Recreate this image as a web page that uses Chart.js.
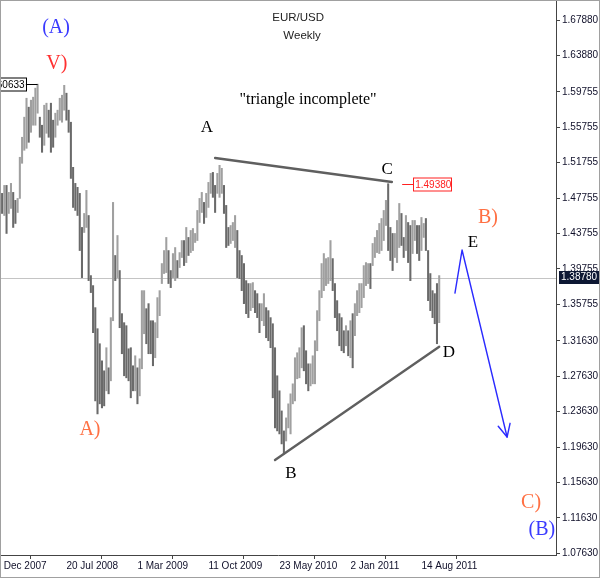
<!DOCTYPE html>
<html>
<head>
<meta charset="utf-8">
<script src="https://cdn.jsdelivr.net/npm/chart.js@4.4.1/dist/chart.umd.min.js"></script>
<style>
html,body{margin:0;padding:0;background:#fff;}
#wrap{width:600px;height:578px;position:relative;}
canvas{display:block;}
</style>
</head>
<body>
<div id="wrap"><canvas id="c" width="600" height="578"></canvas></div>
<script>
// Weekly EUR/USD bars (index 0 = first week shown)
const highs = [
1.4829,1.4919,1.4919,1.4840,1.4942,1.4840,1.4750,1.4772,1.5237,1.5463,
1.5690,1.5904,1.5803,1.5882,1.5916,1.6018,1.6063,1.5690,1.5599,1.5825,
1.5848,1.5769,1.5848,1.5656,1.5735,1.5769,1.5904,1.5938,1.6050,1.5961,
1.5769,1.5633,1.5123,1.4942,1.4897,1.4829,1.4444,1.4602,1.4863,1.4579,
1.3900,1.3787,1.3538,1.3300,1.3130,1.2937,1.2824,1.3085,1.2858,1.3425,
1.4727,1.4127,1.4353,1.3957,1.3470,1.3368,1.3334,1.3073,1.3085,1.2881,
1.2994,1.2858,1.2960,1.3730,1.3730,1.3526,1.3583,1.3390,1.3390,1.3368,
1.3651,1.3730,1.4036,1.4183,1.4331,1.4183,1.3957,1.4149,1.4217,1.4070,
1.4160,1.4296,1.4296,1.4444,1.4331,1.4410,1.4432,1.4376,1.4636,1.4772,
1.4840,1.4727,1.4829,1.4953,1.5055,1.5066,1.4919,1.5055,1.5146,1.5112,
1.4919,1.4693,1.4444,1.4466,1.4500,1.4579,1.4410,1.4183,1.4127,1.4036,
1.3843,1.3810,1.3810,1.3821,1.3730,1.3696,1.3583,1.3583,1.3696,1.3538,
1.3504,1.3425,1.3356,1.3085,1.2768,1.2598,1.2371,1.2145,1.2292,1.2451,
1.2564,1.2677,1.2972,1.3028,1.3085,1.3311,1.3334,1.3051,1.2903,1.2903,
1.2994,1.3164,1.3504,1.3730,1.4036,1.4149,1.4092,1.4104,1.4296,1.4092,
1.3810,1.3617,1.3470,1.3425,1.3277,1.3334,1.3277,1.3390,1.3470,1.3583,
1.3730,1.3810,1.3810,1.4013,1.4047,1.4036,1.4036,1.4263,1.4331,1.4410,
1.4489,1.4545,1.4636,1.4750,1.4938,1.4444,1.4376,1.4376,1.4523,1.4715,
1.4602,1.4331,1.4579,1.4500,1.4466,1.4523,1.4523,1.4466,1.4466,1.4557,
1.4489,1.4545,1.4183,1.3923,1.3730,1.3696,1.3810,1.3900];
const lows = [
1.4602,1.4579,1.4376,1.4602,1.4659,1.4444,1.4489,1.4613,1.4772,1.5169,
1.5316,1.5338,1.5406,1.5519,1.5599,1.5599,1.5735,1.5463,1.5293,1.5372,
1.5508,1.5463,1.5293,1.5350,1.5463,1.5599,1.5656,1.5633,1.5769,1.5656,
1.5519,1.4998,1.4670,1.4636,1.4579,1.4183,1.3877,1.4387,1.4444,1.3843,
1.3708,1.3255,1.2484,1.2337,1.2451,1.2405,1.2428,1.2598,1.2564,1.2711,
1.3390,1.3843,1.3877,1.3311,1.3017,1.2768,1.2745,1.2711,1.2519,1.2598,
1.2598,1.2451,1.2541,1.2847,1.3243,1.3130,1.3017,1.3017,1.2881,1.2972,
1.3198,1.3447,1.3810,1.3923,1.3934,1.3810,1.3764,1.3877,1.3843,1.3877,
1.3991,1.4104,1.4013,1.4047,1.4127,1.4160,1.4183,1.4274,1.4296,1.4500,
1.4613,1.4489,1.4557,1.4670,1.4829,1.4784,1.4613,1.4829,1.4784,1.4829,
1.4602,1.4217,1.4240,1.4263,1.4296,1.4217,1.3877,1.3866,1.3730,1.3583,
1.3470,1.3425,1.3504,1.3538,1.3481,1.3425,1.3255,1.3390,1.3334,1.3198,
1.3164,1.3085,1.2519,1.2179,1.2145,1.2111,1.1998,1.1884,1.2031,1.2179,
1.2111,1.2451,1.2484,1.2734,1.2745,1.2858,1.2824,1.2677,1.2598,1.2654,
1.2677,1.2677,1.3051,1.3390,1.3651,1.3730,1.3787,1.3810,1.3843,1.3730,
1.3425,1.3277,1.3107,1.3051,1.3028,1.3107,1.2994,1.2972,1.2858,1.3221,
1.3447,1.3481,1.3538,1.3651,1.3787,1.3810,1.3753,1.4013,1.4104,1.4160,
1.4149,1.4183,1.4296,1.4466,1.4183,1.4070,1.3957,1.4104,1.4047,1.4217,
1.4240,1.4104,1.4183,1.4047,1.3843,1.4149,1.4296,1.4149,1.4070,1.4183,
1.4331,1.4183,1.3617,1.3504,1.3425,1.3356,1.3130,1.3368];

// Axis ticks
const xTickIndex = [-3, 29, 61, 93, 125, 157, 189];
const xTickLabels = ["2 Dec 2007","20 Jul 2008","1 Mar 2009","11 Oct 2009","23 May 2010","2 Jan 2011","14 Aug 2011"];
const yTickValues = [1.07630,1.11630,1.15630,1.19630,1.23630,1.27630,1.31630,1.35755,1.39755,1.43755,1.47755,1.51755,1.55755,1.59755,1.63880,1.67880];

// Marked prices
const lastPrice = 1.38780;
const peakCIndex = 174, peakCPrice = 1.49380;
const peakEarlyIndex = 16, peakEarlyPrice = 1.60633;

// Trend lines / projected path in (week index, price)
const upperLineIdx = [96.0, 175.7],  upperLinePrice = [1.5229, 1.4958];
const lowerLineIdx = [123.0, 197.0], lowerLinePrice = [1.1816, 1.3096];
const pathIdx = [204.1, 207.3, 227.6], pathPrice = [1.3703, 1.4189, 1.2076];

// Text labels anchored at (week index, price)
const labelText  = ["(A)","V)","A)","A","B","C","D","E","B)","C)","(B)"];
const labelIdx   = [24.3, 24.7, 39.6, 92.3, 130.2, 173.5, 201.4, 212.2, 219.0, 238.4, 243.3];
const labelPrice = [1.6698,1.6290,1.2155,1.5568,1.1669,1.5104,1.3025,1.4268,1.4551,1.1330,1.1025];
const labelColor = ["#3a3aff","#ff3030","#ff7043","#000","#000","#000","#000","#000","#ff7043","#ff7043","#3a3aff"];
const labelSize  = [20,20,20,17,17,17,17,17,20,20,20];

const titleLines = ["EUR/USD","Weekly"];
const titleIdx = [133.4, 135.2], titlePrice = [1.6811, 1.6607];
const noteText = "\"triangle incomplete\"";
const noteIdx = 137.9, notePrice = 1.5884;

const barData = highs.map((h, k) => ({x: k, y: [lows[k], h]}));
const barColors = highs.map((h, k) => {
  if (k === 0) return '#6a6a6a';
  const m = (h + lows[k]) / 2, pm = (highs[k-1] + lows[k-1]) / 2;
  return m >= pm ? '#a0a0a0' : '#6a6a6a';
});

const noPad = s => { s.paddingLeft = 0; s.paddingRight = 0; s.paddingTop = 0; s.paddingBottom = 0; };

const overlay = {
  id: 'overlay',
  beforeDatasetsDraw(chart) {
    const {ctx, chartArea: a, scales: {y}} = chart;
    const py = Math.round(y.getPixelForValue(lastPrice)) + 0.5;
    ctx.save();
    ctx.strokeStyle = '#c4c4c4';
    ctx.lineWidth = 1;
    ctx.beginPath(); ctx.moveTo(a.left, py); ctx.lineTo(a.right, py); ctx.stroke();
    ctx.restore();
  },
  afterDatasetsDraw(chart) {
    const {ctx, scales: {x, y}} = chart;
    const X = v => x.getPixelForValue(v), Y = v => y.getPixelForValue(v);
    ctx.save();
    ctx.strokeStyle = '#5f5f5f';
    ctx.lineWidth = 2.4;
    ctx.lineCap = 'round';
    ctx.beginPath();
    ctx.moveTo(X(upperLineIdx[0]), Y(upperLinePrice[0]));
    ctx.lineTo(X(upperLineIdx[1]), Y(upperLinePrice[1]));
    ctx.stroke();
    ctx.beginPath();
    ctx.moveTo(X(lowerLineIdx[0]), Y(lowerLinePrice[0]));
    ctx.lineTo(X(lowerLineIdx[1]), Y(lowerLinePrice[1]));
    ctx.stroke();
    ctx.strokeStyle = '#2a2aff';
    ctx.lineWidth = 1.4;
    ctx.lineJoin = 'round';
    ctx.beginPath();
    pathIdx.forEach((v, k) => { const px = X(v), py = Y(pathPrice[k]); k ? ctx.lineTo(px, py) : ctx.moveTo(px, py); });
    ctx.stroke();
    const n = pathIdx.length;
    const ex = X(pathIdx[n-1]), ey = Y(pathPrice[n-1]);
    const sx = X(pathIdx[n-2]), sy = Y(pathPrice[n-2]);
    const ang = Math.atan2(ey - sy, ex - sx);
    ctx.beginPath();
    for (const d of [-0.45, 0.45]) {
      ctx.moveTo(ex, ey);
      ctx.lineTo(ex - 14 * Math.cos(ang + d), ey - 14 * Math.sin(ang + d));
    }
    ctx.stroke();
    ctx.restore();
  },
  afterDraw(chart) {
    const {ctx, chartArea: a, scales: {x, y}} = chart;
    const X = v => x.getPixelForValue(v), Y = v => y.getPixelForValue(v);
    ctx.save();
    ctx.textAlign = 'center';
    ctx.textBaseline = 'middle';
    labelText.forEach((t, k) => {
      ctx.font = labelSize[k] + 'px "Liberation Serif", "Times New Roman", serif';
      ctx.fillStyle = labelColor[k];
      ctx.fillText(t, X(labelIdx[k]), Y(labelPrice[k]));
    });
    ctx.font = '11.5px "Liberation Sans", Arial, sans-serif';
    ctx.fillStyle = '#222';
    titleLines.forEach((t, k) => ctx.fillText(t, X(titleIdx[k]), Y(titlePrice[k])));
    ctx.font = '16px "Liberation Serif", "Times New Roman", serif';
    ctx.fillStyle = '#000';
    ctx.fillText(noteText, X(noteIdx), Y(notePrice));

    // C peak price tag
    ctx.font = '10px "Liberation Sans", Arial, sans-serif';
    let py = Math.round(Y(peakCPrice)) + 0.5;
    let px = X(peakCIndex);
    ctx.strokeStyle = '#ff2020'; ctx.lineWidth = 1;
    ctx.beginPath(); ctx.moveTo(px + 14, py); ctx.lineTo(px + 25, py); ctx.stroke();
    ctx.fillStyle = '#fff';
    ctx.fillRect(px + 25, py - 6.5, 39, 13);
    ctx.strokeRect(Math.round(px + 25) + 0.5, py - 6.5, 38, 13);
    ctx.fillStyle = '#ff2020';
    ctx.textAlign = 'left';
    ctx.fillText(peakCPrice.toFixed(5), px + 27, py + 0.5);

    // early peak price tag (cut at left edge)
    py = Math.round(Y(peakEarlyPrice)) + 0.5;
    px = X(peakEarlyIndex);
    ctx.strokeStyle = '#000';
    ctx.beginPath(); ctx.moveTo(px - 12, py); ctx.lineTo(px, py); ctx.stroke();
    ctx.fillStyle = '#fff';
    ctx.fillRect(a.left, py - 6.5, px - 12 - a.left, 13);
    ctx.strokeRect(a.left + 0.5, py - 6.5, Math.round(px - 12 - a.left), 13);
    ctx.fillStyle = '#000';
    ctx.textAlign = 'right';
    ctx.fillText(peakEarlyPrice.toFixed(5), px - 13, py + 0.5);

    // last price box on the axis
    py = Y(lastPrice);
    ctx.fillStyle = '#0d1733';
    ctx.fillRect(a.right + 3, Math.round(py) - 7, 600 - a.right - 3, 13);
    ctx.fillStyle = '#fff';
    ctx.textAlign = 'left';
    ctx.fillText(lastPrice.toFixed(5), a.right + 5, Math.round(py) - 0.5);

    ctx.strokeStyle = '#a0a0a0';
    ctx.lineWidth = 1;
    ctx.strokeRect(0.5, 0.5, 599, 577);
    ctx.restore();
  }
};

new Chart(document.getElementById('c'), {
  type: 'bar',
  data: {
    datasets: [{
      data: barData,
      backgroundColor: barColors,
      borderWidth: 0,
      barThickness: 1.4,
      grouped: false
    }]
  },
  options: {
    responsive: false,
    animation: false,
    devicePixelRatio: 1,
    layout: {padding: 0},
    plugins: {legend: {display: false}, tooltip: {enabled: false}, title: {display: false}},
    scales: {
      x: {
        type: 'linear',
        min: -0.9465,
        max: 249.64,
        offset: false,
        afterBuildTicks: s => { s.ticks = xTickIndex.map(v => ({value: v})); },
        afterFit: s => { s.height = 23; noPad(s); },
        ticks: {
          autoSkip: false, maxRotation: 0, minRotation: 0, align: 'start',
          padding: 1,
          font: {family: '"Liberation Sans", Arial, sans-serif', size: 10},
          color: '#10102a',
          callback: (v, i) => xTickLabels[i]
        },
        grid: {drawOnChartArea: false, drawTicks: true, tickLength: 4, color: '#444'},
        border: {display: true, color: '#444', width: 1}
      },
      y: {
        type: 'linear',
        position: 'right',
        min: 1.07428,
        max: 1.70140,
        afterBuildTicks: s => { s.ticks = yTickValues.map(v => ({value: v})); },
        afterFit: s => { s.width = 44; noPad(s); },
        ticks: {
          autoSkip: false,
          padding: 2,
          font: {family: '"Liberation Sans", Arial, sans-serif', size: 10},
          color: '#10102a',
          callback: v => Number(v).toFixed(5)
        },
        grid: {drawOnChartArea: false, drawTicks: true, tickLength: 4, color: '#444'},
        border: {display: true, color: '#444', width: 1}
      }
    }
  },
  plugins: [overlay]
});
</script>
</body>
</html>
